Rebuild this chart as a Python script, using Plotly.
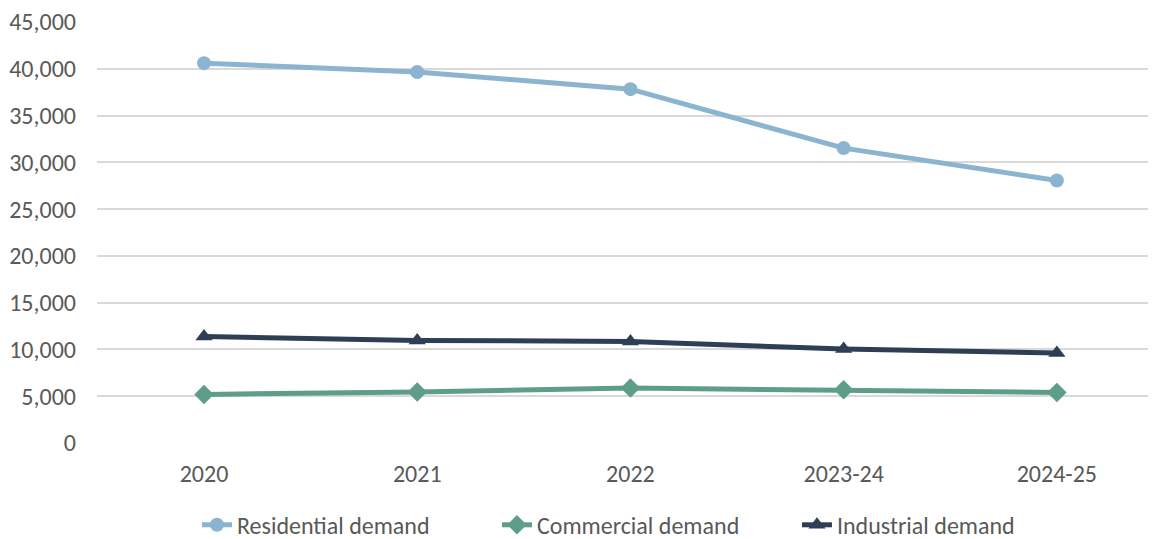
import plotly.graph_objects as go

categories = ["2020", "2021", "2022", "2023-24", "2024-25"]
residential = [40600, 39650, 37820, 31520, 28060]
commercial = [5190, 5450, 5880, 5700, 5400]
industrial = [11390, 10960, 10860, 10040, 9620]
y_ticks = [0, 5000, 10000, 15000, 20000, 25000, 30000, 35000, 40000, 45000]

FONT = "Carlito, Calibri, 'Open Sans', sans-serif"
TXT = "#595959"

series = [
    ("Residential demand", residential, "#8AB4D0", "circle", 14),
    ("Commercial demand", commercial, "#5E9E87", "diamond", 15),
    ("Industrial demand", industrial, "#2E3E55", "triangle-up", 15),
]

fig = go.Figure()
for name, vals, color, sym, size in series:
    fig.add_trace(go.Scatter(
        x=list(range(len(categories))), y=vals, name=name, mode="lines+markers",
        line=dict(color=color, width=5),
        marker=dict(symbol=sym, size=size, color=color),
    ))

fig.update_layout(
    width=1148, height=531,
    margin=dict(l=89, r=0, t=14, b=96, autoexpand=False),
    plot_bgcolor="white", paper_bgcolor="white",
    font=dict(family=FONT, size=24, color=TXT),
    showlegend=True,
    legend=dict(orientation="h", xref="container", x=0.1646, xanchor="left",
                yref="container", y=0.026, yanchor="middle",
                font=dict(family=FONT, size=24, color=TXT),
                entrywidth=255, entrywidthmode="pixels", tracegroupgap=0),
)
fig.update_xaxes(
    tickmode="array", tickvals=list(range(len(categories))), ticktext=categories,
    range=[-0.502, 4.465], showgrid=False, zeroline=False, showline=False,
    ticks="", ticklabelstandoff=14, ticklabeloverflow="allow",
    tickfont=dict(family=FONT, size=24, color=TXT),
)
fig.update_yaxes(
    range=[0, 45000], tickvals=y_ticks, tickformat=",", showgrid=True,
    gridcolor="#D9D9D9", gridwidth=1.5, zeroline=False, showline=False,
    ticks="", ticklabelstandoff=20, ticklabeloverflow="allow",
    tickfont=dict(family=FONT, size=24, color=TXT),
)

fig.write_html("out.html")
